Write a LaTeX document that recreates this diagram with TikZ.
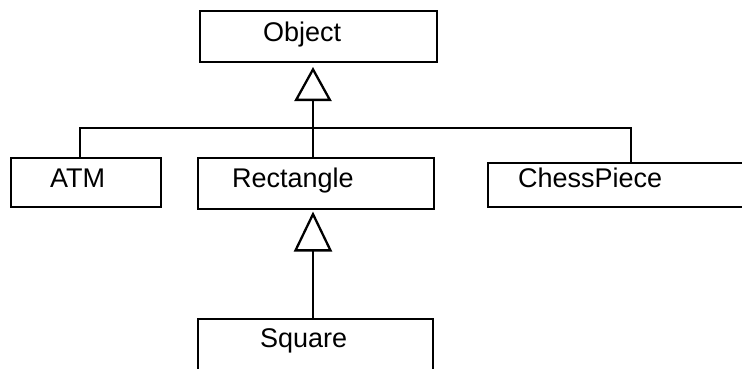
\documentclass[tikz,border=0pt]{standalone}
\usepackage{fontspec}
\setmainfont{Liberation Sans}
\usetikzlibrary{arrows.meta}
\begin{document}
\begin{tikzpicture}[x=1pt,y=-1pt,
  box/.style={draw, line width=2.3pt, inner sep=0pt, outer sep=0pt, anchor=north west},
  lbl/.style={anchor=base west, inner sep=0pt, font=\fontsize{27}{30}\selectfont},
  conn/.style={line width=2.3pt},
  inherit/.style={line width=2.3pt, -{Triangle[open, length=34pt, width=37pt, line width=2.3pt]}, shorten >=5pt},
  inherit2/.style={line width=2.3pt, -{Triangle[open, length=40pt, width=38pt, line width=2.3pt]}, shorten >=2.5pt}]
\useasboundingbox (0,0) rectangle (742,369);
% boxes
\node[box, minimum width=237pt, minimum height=51pt] (obj) at (200,11) {};
\node[box, minimum width=150pt, minimum height=49pt] (atm) at (11,158) {};
\node[box, minimum width=236pt, minimum height=51pt] (rect) at (198,158) {};
\node[box, minimum width=270pt, minimum height=44pt] (chess) at (488,163) {};
\node[box, minimum width=235pt, minimum height=70pt] (sq) at (198,319) {};
% labels
\node[lbl] (objt) at (263,42) {Object};
\node[lbl] (atmt) at (50,187) {ATM};
\node[lbl] (rectt) at (232,187) {Rectangle};
\node[lbl] (chesst) at (518,187) {ChessPiece};
\node[lbl] (sqt) at (260,347) {Square};
% connectors
\coordinate (bL) at (80,128);
\coordinate (bM) at (313,128);
\coordinate (bR) at (631,128);
\draw[conn] (bL |- atm.north) -- (bL) -- (bR) -- (bR |- chess.north);
\draw[conn] (bM |- rect.north) -- (bM);
\draw[inherit] (bM) -- (bM |- obj.south);
\draw[inherit2] (bM |- sq.north) -- (bM |- rect.south);
\end{tikzpicture}
\end{document}
